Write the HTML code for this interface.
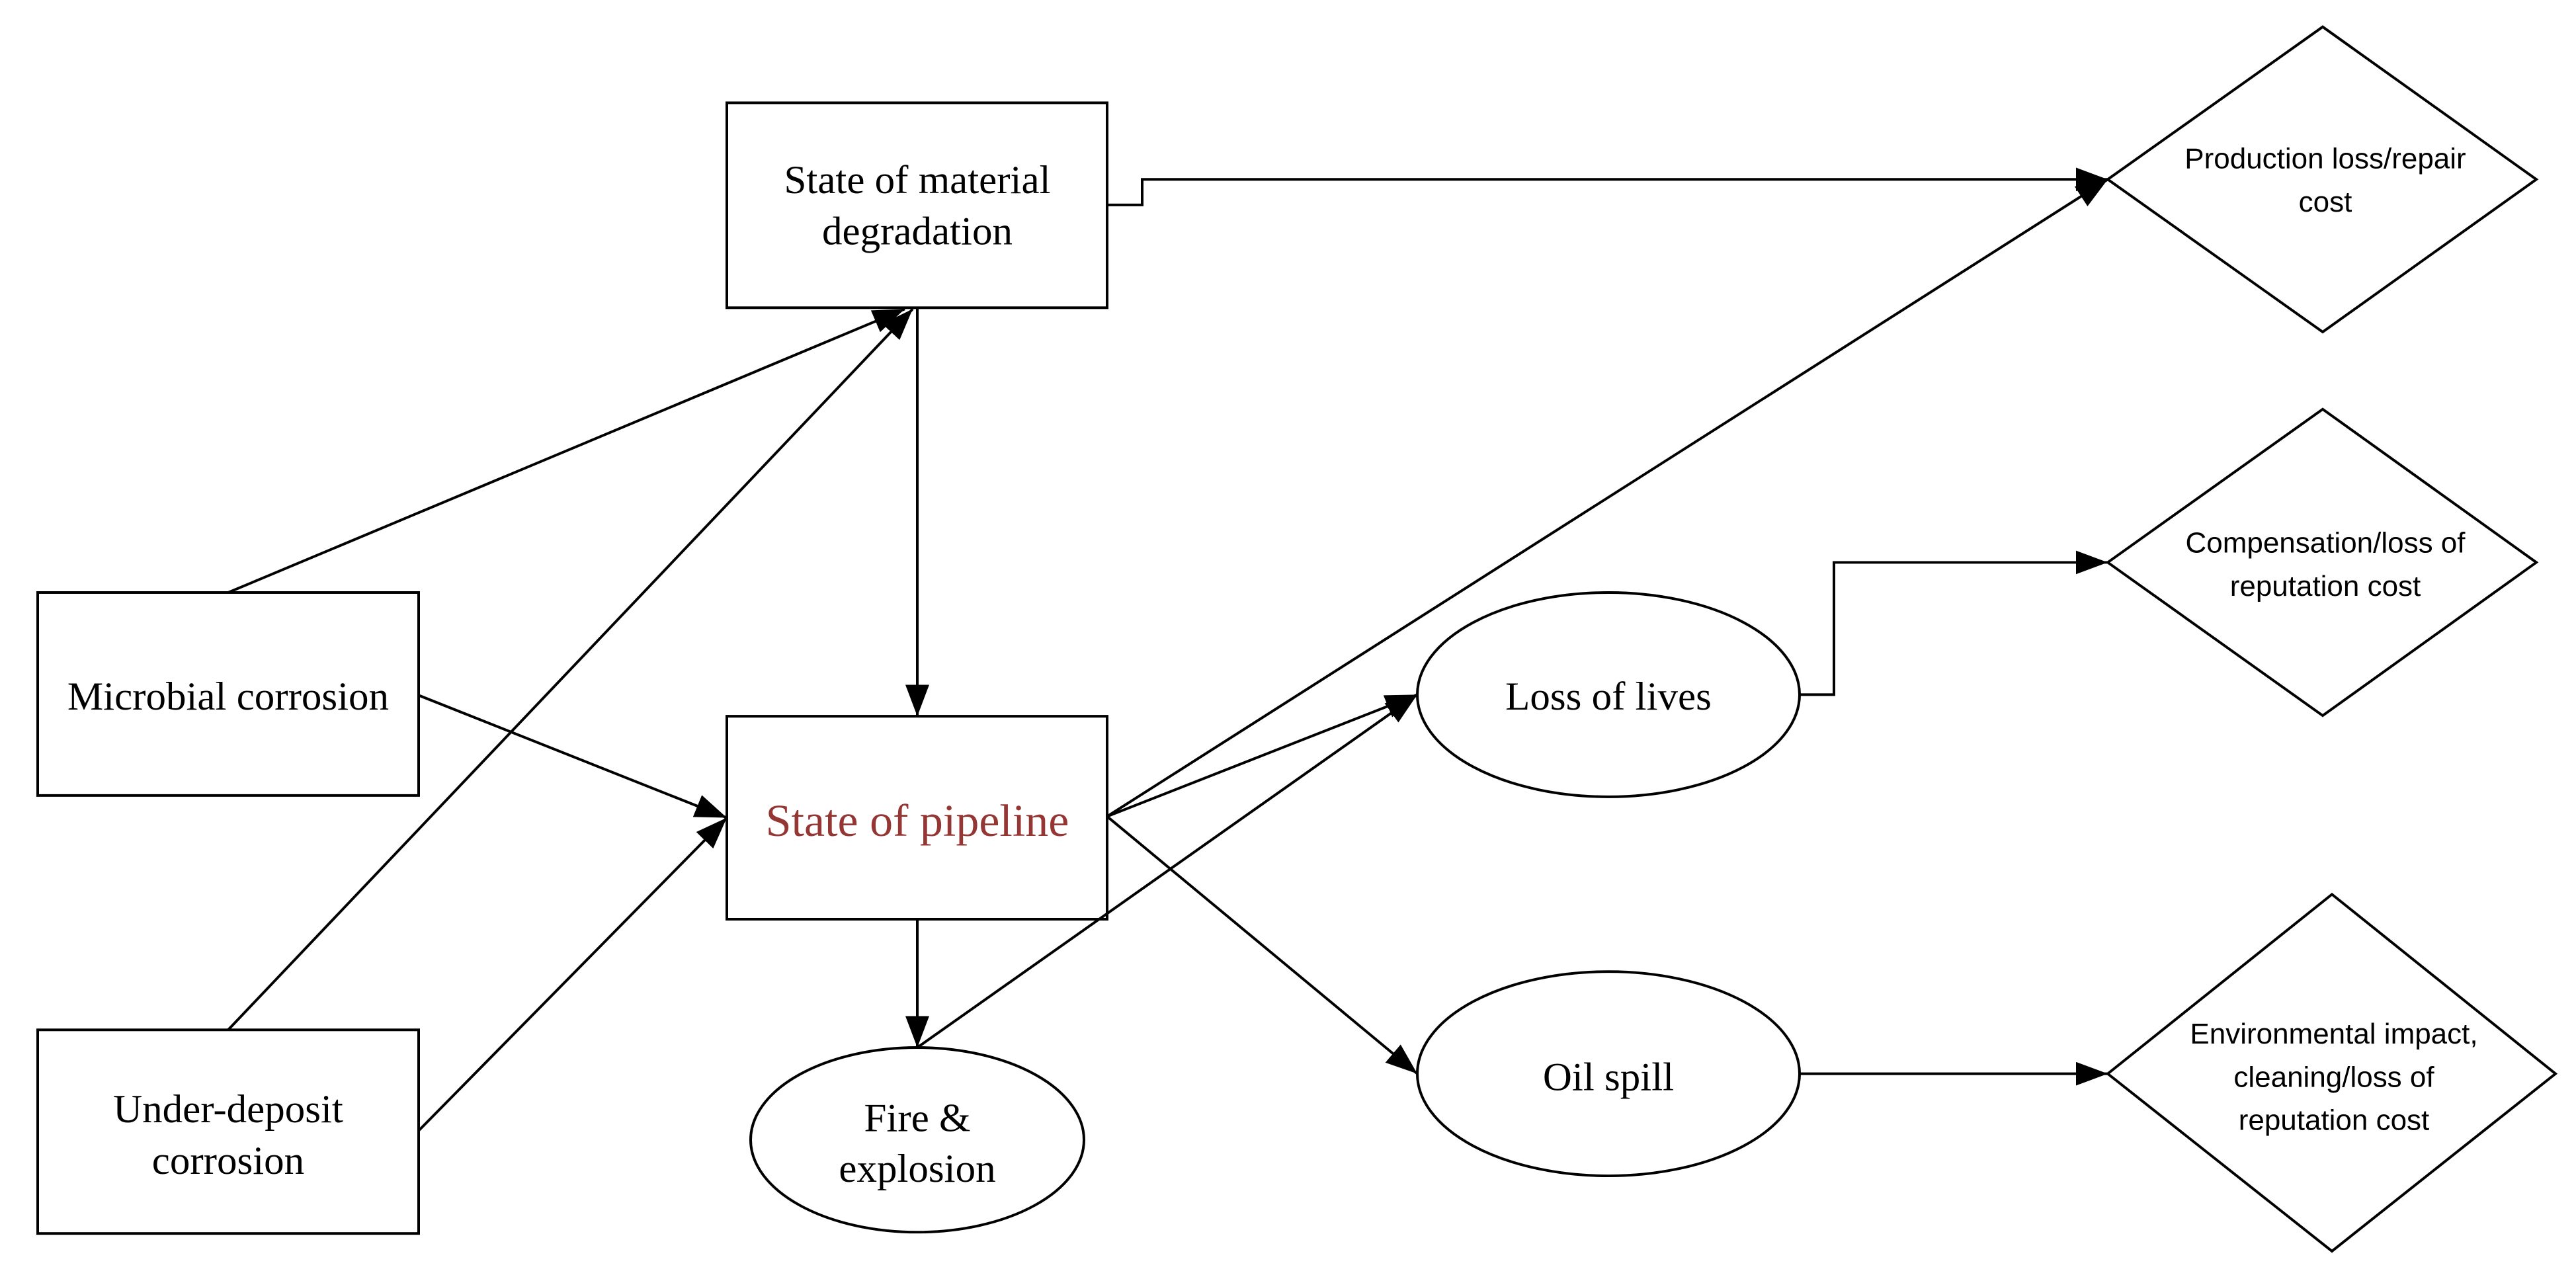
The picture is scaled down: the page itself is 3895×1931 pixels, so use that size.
<!DOCTYPE html>
<html><head><meta charset="utf-8"><style>
html,body{margin:0;padding:0;background:#fff;}
svg{display:block;}
.s{font-family:"Liberation Serif",serif;fill:#000;}
.c{font-family:"Liberation Sans",sans-serif;fill:#000;font-size:44px;}
</style></head><body>
<svg width="3895" height="1931" viewBox="0 0 3895 1931" xmlns="http://www.w3.org/2000/svg">
<defs>
<marker id="a" markerUnits="userSpaceOnUse" markerWidth="50" markerHeight="40" refX="48" refY="18" orient="auto">
<path d="M0,0 L48,18 L0,36 Z" fill="#000"/>
</marker>
</defs>
<g transform="translate(0,2) scale(1,0.99)">
<g fill="none" stroke="#000" stroke-width="4">
<rect x="1099" y="155" width="575" height="313"/>
<rect x="57" y="903" width="576" height="310"/>
<rect x="57" y="1571" width="576" height="311"/>
<rect x="1099" y="1092" width="575" height="310"/>
<ellipse cx="1387" cy="1739" rx="252" ry="141"/>
<ellipse cx="2432" cy="1059" rx="289" ry="156"/>
<ellipse cx="2432" cy="1638" rx="289" ry="156"/>
<polygon points="3187,272 3512,39 3835,272 3512,505"/>
<polygon points="3187,857 3512,623 3835,857 3512,1091"/>
<polygon points="3187,1638 3526,1364 3864,1638 3526,1909"/>
<polyline points="1674,311 1727,311 1727,272 3187,272" marker-end="url(#a)"/>
<line x1="345" y1="903" x2="1368" y2="470" marker-end="url(#a)"/>
<line x1="345" y1="1571" x2="1380" y2="470" marker-end="url(#a)"/>
<line x1="633" y1="1060" x2="1099" y2="1247" marker-end="url(#a)"/>
<line x1="633" y1="1725" x2="1099" y2="1247" marker-end="url(#a)"/>
<line x1="1387" y1="468" x2="1387" y2="1092" marker-end="url(#a)"/>
<line x1="1387" y1="1402" x2="1387" y2="1598" marker-end="url(#a)"/>
<line x1="1674" y1="1245" x2="3187" y2="272" marker-end="url(#a)"/>
<line x1="1674" y1="1245" x2="2143" y2="1059" marker-end="url(#a)"/>
<line x1="1387" y1="1598" x2="2143" y2="1059" marker-end="url(#a)"/>
<line x1="1674" y1="1245" x2="2143" y2="1638" marker-end="url(#a)"/>
<polyline points="2720,1059 2773,1059 2773,857 3187,857" marker-end="url(#a)"/>
<line x1="2720" y1="1638" x2="3187" y2="1638" marker-end="url(#a)"/>
</g>
<g class="s" font-size="61" text-anchor="middle">
<text x="1387" y="293">State of material</text>
<text x="1387" y="371">degradation</text>
<text x="345" y="1082">Microbial corrosion</text>
<text x="345" y="1712">Under-deposit</text>
<text x="345" y="1791">corrosion</text>
<text x="1387" y="1726">Fire &amp;</text>
<text x="1387" y="1803">explosion</text>
<text x="2432" y="1082">Loss of lives</text>
<text x="2432" y="1663">Oil spill</text>
<text x="1387" y="1275" font-size="70" fill="#943634">State of pipeline</text>
</g>
<g class="c" text-anchor="middle">
<text x="3516" y="255">Production loss/repair</text>
<text x="3516" y="321">cost</text>
<text x="3516" y="842">Compensation/loss of</text>
<text x="3516" y="908">reputation cost</text>
<text x="3529" y="1592">Environmental impact,</text>
<text x="3529" y="1658">cleaning/loss of</text>
<text x="3529" y="1724">reputation cost</text>
</g>
</g>
</svg>
</body></html>
